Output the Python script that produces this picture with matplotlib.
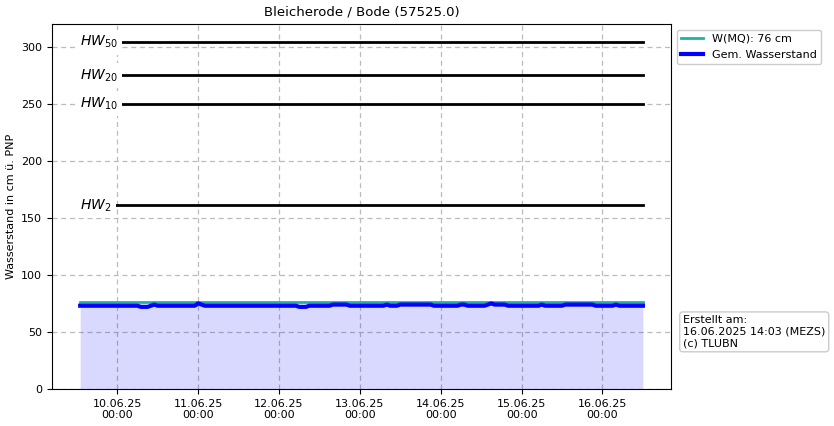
import matplotlib
matplotlib.use("Agg")
import matplotlib.pyplot as plt
import matplotlib.dates as mdates
import pandas as pd
import numpy as np

title = "Bleicherode / Bode (57525.0)"
ylabel = "Wasserstand in cm ü. PNP"
start_time = "2025-06-09 13:00"
# hourly water level values (cm), 09.06.25 13:00 ... 16.06.25 12:00 (24 per row)
water_level = [
    73, 73, 73, 73, 73, 73, 73, 73, 73, 73, 73, 73, 73, 73, 73, 73, 73, 73, 72, 72, 72, 73, 74, 73,
    73, 73, 73, 73, 73, 73, 73, 73, 73, 73, 73, 75, 74, 73, 73, 73, 73, 73, 73, 73, 73, 73, 73, 73,
    73, 73, 73, 73, 73, 73, 73, 73, 73, 73, 73, 73, 73, 73, 73, 73, 73, 72, 72, 72, 73, 73, 73, 73,
    73, 73, 73, 74, 74, 74, 74, 74, 73, 73, 73, 73, 73, 73, 73, 73, 73, 73, 73, 74, 73, 73, 73, 74,
    74, 74, 74, 74, 74, 74, 74, 74, 74, 73, 73, 73, 73, 73, 73, 73, 73, 74, 74, 73, 73, 73, 73, 73,
    73, 74, 75, 74, 74, 74, 74, 73, 73, 73, 73, 73, 73, 73, 73, 73, 73, 74, 73, 73, 73, 73, 73, 73,
    74, 74, 74, 74, 74, 74, 74, 74, 74, 73, 73, 73, 73, 73, 73, 74, 73, 73, 73, 73, 73, 73, 73, 73,
]
mq_value = 76
mq_label = "W(MQ): 76 cm"
hw_names = ["$HW_{50}$", "$HW_{20}$", "$HW_{10}$", "$HW_{2}$"]
hw_values = [304, 275, 250, 161]
yticks = [0, 50, 100, 150, 200, 250, 300]
info_text = "Erstellt am:\n16.06.2025 14:03 (MEZS)\n(c) TLUBN"

times = pd.date_range(start_time, periods=len(water_level), freq="h")
wl = np.array(water_level, dtype=float)

fig = plt.figure(figsize=(8.34, 4.26), dpi=100)
ax = fig.add_axes([0.0624, 0.0869, 0.7422, 0.8568])

ax.grid(True, linestyle=(0, (4, 3)), color="#bbbbbb", linewidth=0.9)
ax.set_axisbelow(True)

ax.fill_between(times, 0, wl, color="blue", alpha=0.15, linewidth=0)
for name, val in zip(hw_names, hw_values):
    ax.plot([times[0], times[-1]], [val, val], color="black", linewidth=2)
    ax.text(times[0], val, name, fontsize=10, ha="left", va="center",
            bbox=dict(facecolor="white", edgecolor="none", pad=3), zorder=5)
ax.plot([times[0], times[-1]], [mq_value, mq_value], color="#20b2aa", linewidth=2, label=mq_label)
ax.plot(times, wl, color="blue", linewidth=3, label="Gem. Wasserstand")

ax.set_ylim(0, 320)
ax.set_yticks(yticks)
ax.xaxis.set_major_locator(mdates.DayLocator())
ax.xaxis.set_major_formatter(mdates.DateFormatter("%d.%m.%y\n%H:%M"))
ax.tick_params(labelsize=8)
ax.set_ylabel(ylabel, fontsize=8)
ax.set_title(title, fontsize=9.5)

ax.legend(loc="upper left", bbox_to_anchor=(1.0, 1.0), fontsize=8, framealpha=1)
fig.text(0.819, 0.221, info_text, fontsize=8, ha="left", va="center",
         bbox=dict(boxstyle="round,pad=0.3", facecolor="white", edgecolor="#cccccc"))

fig.savefig("out.png", dpi=100)
